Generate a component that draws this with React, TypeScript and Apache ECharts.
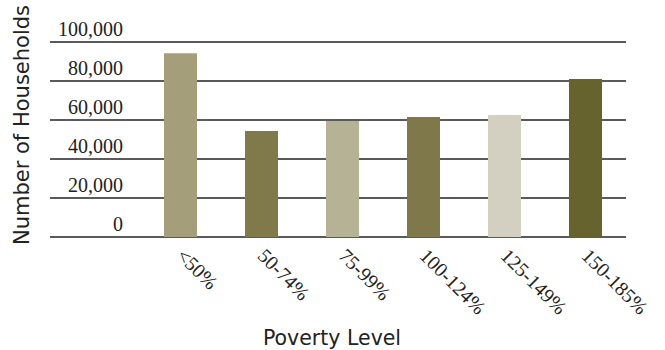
import React, { useEffect, useRef } from "react";
import * as echarts from "echarts";

// Households by poverty level (share of poverty threshold)
const categories = ["<50%", "50-74%", "75-99%", "100-124%", "125-149%", "150-185%"];
const households = [94200, 54300, 59500, 61500, 62600, 81000];
const barColors = ["#a59e7b", "#807a4b", "#b6b295", "#7f784a", "#d3d0c2", "#66632f"];
const yTicks = { min: 0, max: 100000, interval: 20000 };

const serif = "'Liberation Serif', 'Times New Roman', serif";
const sans = "'DejaVu Sans', sans-serif";

export default function App() {
  const ref = useRef<HTMLDivElement>(null);

  useEffect(() => {
    if (!ref.current) return;
    const chart = echarts.init(ref.current, null, { renderer: "svg" });

    chart.setOption({
      animation: false,
      backgroundColor: "#ffffff",
      grid: [
        // full-width grid carrying the horizontal rules and value labels
        { left: 50, right: 39, top: 42, bottom: 113 },
        // narrower grid holding the bars
        { left: 140, right: 39, top: 42, bottom: 113 },
      ],
      xAxis: [
        { gridIndex: 0, type: "value", show: false, min: 0, max: 1 },
        {
          gridIndex: 1,
          type: "category",
          data: categories,
          axisLine: { show: false },
          axisTick: { show: false },
          axisLabel: {
            rotate: -45,
            margin: 15,
            color: "#222",
            fontFamily: serif,
            fontSize: 20,
            interval: 0,
          },
        },
      ],
      yAxis: [
        {
          gridIndex: 0,
          type: "value",
          ...yTicks,
          offset: -75,
          axisLine: { show: false },
          axisTick: { show: false },
          axisLabel: {
            margin: 2,
            verticalAlign: "bottom",
            padding: [0, 0, 3, 0],
            color: "#222",
            fontFamily: serif,
            fontSize: 20,
            formatter: (v: number) => v.toLocaleString("en-US"),
          },
          splitLine: { show: true, lineStyle: { color: "#232323", width: 1.6 } },
        },
        {
          gridIndex: 1,
          type: "value",
          ...yTicks,
          show: false,
          splitLine: { show: false },
        },
      ],
      series: [
        {
          type: "bar",
          xAxisIndex: 1,
          yAxisIndex: 1,
          barWidth: 33,
          data: households.map((v, i) => ({ value: v, itemStyle: { color: barColors[i] } })),
        },
      ],
      graphic: [
        {
          type: "text",
          x: 22,
          y: 125,
          rotation: Math.PI / 2,
          style: {
            text: "Number of Households",
            fontFamily: sans,
            fontSize: 21,
            fill: "#222",
            align: "center",
            verticalAlign: "middle",
          },
        },
        {
          type: "text",
          x: 332,
          y: 338,
          style: {
            text: "Poverty Level",
            fontFamily: sans,
            fontSize: 20.5,
            fill: "#222",
            align: "center",
            verticalAlign: "middle",
          },
        },
      ],
    });

    return () => chart.dispose();
  }, []);

  return (
    <div
      ref={ref}
      style={{ position: "fixed", left: 0, top: 0, width: 665, height: 350 }}
    />
  );
}
